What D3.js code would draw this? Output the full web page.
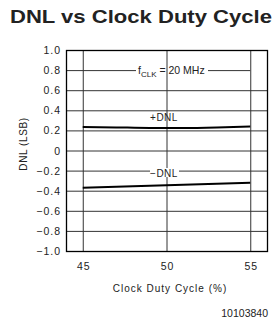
<!DOCTYPE html>
<html>
<head>
<meta charset="utf-8">
<script src="https://cdn.jsdelivr.net/npm/d3@7"></script>
<style>
  body { margin: 0; background: #fff; }
  text { font-family: "Liberation Sans", Arial, sans-serif; }
</style>
</head>
<body>
<script>
// data
const dutyCycle = [45, 47, 49, 51, 53, 55];
const dnlPlus   = [0.235, 0.23, 0.225, 0.225, 0.23, 0.24];
const dnlMinus  = [-0.37, -0.36, -0.35, -0.34, -0.33, -0.32];
const xTicks = [45, 50, 55];
const yTicks = [1.0, 0.8, 0.6, 0.4, 0.2, 0, -0.2, -0.4, -0.6, -0.8, -1.0];

const width = 279, height = 326;
const svg = d3.select('body').append('svg')
    .attr('width', width).attr('height', height);

const x = d3.scaleLinear().domain([44, 56]).range([66, 267]);
const y = d3.scaleLinear().domain([-1, 1]).range([251, 50]);

svg.append('text')
    .attr('x', 10).attr('y', 23)
    .attr('font-size', 18.5).attr('font-weight', 'bold')
    .attr('textLength', 262).attr('lengthAdjust', 'spacingAndGlyphs')
    .attr('fill', '#222')
    .text('DNL vs Clock Duty Cycle');

const g = svg.append('g');

// horizontal grid
g.selectAll('line.hg').data(yTicks.filter(d => d !== 0.8)).enter()
  .append('line').attr('class', 'hg')
    .attr('x1', x(44)).attr('x2', x(56))
    .attr('y1', d => y(d) + 0.5).attr('y2', d => y(d) + 0.5)
    .attr('stroke', '#333').attr('stroke-width', 1);

// 0.8 line broken by the frequency label
g.append('line')
    .attr('x1', x(44)).attr('x2', 136)
    .attr('y1', y(0.8) + 0.5).attr('y2', y(0.8) + 0.5)
    .attr('stroke', '#333');
g.append('line')
    .attr('x1', 208).attr('x2', x(55))
    .attr('y1', y(0.8) + 0.5).attr('y2', y(0.8) + 0.5)
    .attr('stroke', '#333');

// vertical grid
g.selectAll('line.vg').data(xTicks).enter()
  .append('line').attr('class', 'vg')
    .attr('x1', d => x(d) + 0.5).attr('x2', d => x(d) + 0.5)
    .attr('y1', y(1)).attr('y2', y(-1))
    .attr('stroke', '#333');

// frame
g.append('rect')
    .attr('x', x(44) + 0.5).attr('y', y(1) + 0.5)
    .attr('width', x(56) - x(44)).attr('height', y(-1) - y(1))
    .attr('fill', 'none').attr('stroke', '#000').attr('stroke-width', 1.3);

// y tick labels
svg.selectAll('text.yt').data(yTicks).enter()
  .append('text').attr('class', 'yt')
    .attr('x', 61).attr('y', d => y(d) + 4)
    .attr('text-anchor', 'end')
    .attr('font-size', 10.5).attr('letter-spacing', 1)
    .attr('fill', '#222')
    .text(d => d === 0 ? '0' : d3.format('.1f')(d).replace('-', '\u2212'));

// x tick labels
svg.selectAll('text.xt').data(xTicks).enter()
  .append('text').attr('class', 'xt')
    .attr('x', d => x(d) + 1).attr('y', 270)
    .attr('text-anchor', 'middle')
    .attr('font-size', 10.5).attr('letter-spacing', 1)
    .attr('fill', '#222')
    .text(d => d);

svg.append('text')
    .attr('x', 170).attr('y', 292)
    .attr('text-anchor', 'middle')
    .attr('font-size', 10).attr('letter-spacing', 1)
    .attr('fill', '#222')
    .text('Clock Duty Cycle (%)');

svg.append('text')
    .attr('transform', 'translate(27,144) rotate(-90)')
    .attr('text-anchor', 'middle')
    .attr('font-size', 10).attr('letter-spacing', 0.6)
    .attr('fill', '#222')
    .text('DNL (LSB)');

svg.append('text')
    .attr('x', 268).attr('y', 317)
    .attr('text-anchor', 'end')
    .attr('font-size', 10.5)
    .attr('fill', '#222')
    .text('10103840');

// curves
const line = d3.line().x((d, i) => x(dutyCycle[i])).y(d => y(d)).curve(d3.curveMonotoneX);
[dnlPlus, dnlMinus].forEach(s => {
  g.append('path').datum(s)
    .attr('d', line)
    .attr('fill', 'none').attr('stroke', '#000').attr('stroke-width', 2);
});

// labels
const fl = svg.append('text')
    .attr('x', 138).attr('y', 74)
    .attr('font-size', 10.5).attr('fill', '#222');
fl.append('tspan').text('f');
fl.append('tspan').attr('font-size', 8).attr('dy', 3).text('CLK');
fl.append('tspan').attr('dy', -3).text(' = 20 MHz');

svg.append('text')
    .attr('x', 164).attr('y', 121)
    .attr('text-anchor', 'middle')
    .attr('font-size', 10).attr('letter-spacing', 0.5)
    .attr('fill', '#222')
    .text('+DNL');

svg.append('rect')
    .attr('x', 150).attr('y', 168).attr('width', 29).attr('height', 9)
    .attr('fill', '#fff');
svg.append('text')
    .attr('x', 164).attr('y', 177)
    .attr('text-anchor', 'middle')
    .attr('font-size', 10).attr('letter-spacing', 0.5)
    .attr('fill', '#222')
    .text('\u2212DNL');
</script>
</body>
</html>
